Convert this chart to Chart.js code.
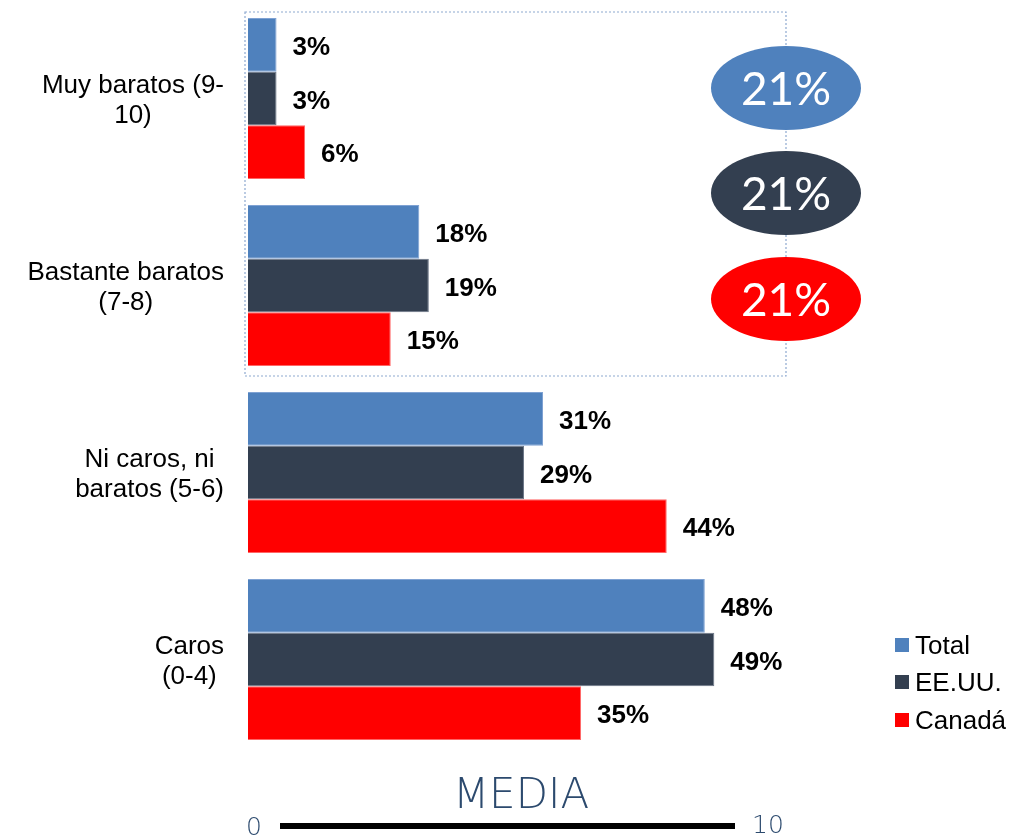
<!DOCTYPE html>
<html>
<head>
<meta charset="utf-8">
<script src="https://cdn.jsdelivr.net/npm/chart.js@4"></script>
<style>
  html, body { margin: 0; padding: 0; background: #ffffff; }
  #wrap { width: 1012px; height: 838px; position: relative; }
</style>
</head>
<body>
<div id="wrap"><canvas id="c" width="1012" height="838"></canvas></div>
<script>
// Rating bands (price perception), top to bottom
const categories = [
  ['Muy baratos (9-', '10)'],
  ['Bastante baratos', '(7-8)'],
  ['Ni caros, ni', 'baratos (5-6)'],
  ['Caros', '(0-4)']
];
const seriesNames = ['Total', 'EE.UU.', 'Canadá'];
const totalValues = [3, 18, 31, 48];
const usaValues = [3, 19, 29, 49];
const canadaValues = [6, 15, 44, 35];
// Share rating 7-10 per series
const topTwoShare = ['21%', '21%', '21%'];
const scaleEnds = ['0', '10'];
const scaleTitle = 'MEDIA';

const fills = ['#4F81BD', '#333F50', '#FF0000'];
const edges = ['#7FA2D3', '#6B7686', '#FF6666'];
const labelFont = '"Liberation Sans", Arial, sans-serif';

// Category labels: each block centered on itself, right edge next to the bars
const categoryLabels = {
  id: 'categoryLabels',
  afterDraw(chart) {
    const ctx = chart.ctx;
    const y = chart.scales.y;
    const right = 224, lh = 30;
    ctx.save();
    ctx.font = '26px ' + labelFont;
    ctx.fillStyle = '#000';
    ctx.textBaseline = 'middle';
    ctx.textAlign = 'center';
    categories.forEach((lines, i) => {
      const w = Math.max(...lines.map(l => ctx.measureText(l).width));
      const cx = right - w / 2;
      const cy = y.getPixelForValue(i) + 2;
      const y0 = cy - (lines.length - 1) * lh / 2;
      lines.forEach((l, k) => ctx.fillText(l, cx, y0 + k * lh));
    });
    ctx.restore();
  }
};

// Value labels after the end of each bar
const valueLabels = {
  id: 'valueLabels',
  afterDatasetsDraw(chart) {
    const ctx = chart.ctx;
    ctx.save();
    ctx.font = 'bold 26px ' + labelFont;
    ctx.fillStyle = '#000';
    ctx.textAlign = 'left';
    ctx.textBaseline = 'middle';
    chart.data.datasets.forEach((ds, di) => {
      chart.getDatasetMeta(di).data.forEach((el, i) => {
        ctx.fillText(ds.data[i] + '%', el.x + 16, el.y + 3);
      });
    });
    ctx.restore();
  }
};

// Dotted frame around the two "baratos" bands, with the top-two share bubbles
const topTwoBox = {
  id: 'topTwoBox',
  beforeDatasetsDraw(chart) {
    const ctx = chart.ctx;
    const ys = chart.scales.y;
    const half = (ys.getPixelForValue(1) - ys.getPixelForValue(0)) / 2;
    const top = ys.getPixelForValue(0) - half + 7;
    const bottom = ys.getPixelForValue(1) + half - 3;
    const left = chart.chartArea.left - 3, right = 786;
    ctx.save();
    ctx.strokeStyle = '#8EA9D0';
    ctx.lineWidth = 1.2;
    ctx.setLineDash([2, 2]);
    ctx.strokeRect(left, top, right - left, bottom - top);
    ctx.restore();
  },
  afterDraw(chart) {
    const ctx = chart.ctx;
    const cx = 786, rx = 75, ry = 42;
    const centers = [88, 193, 299];
    ctx.save();
    centers.forEach((cy, i) => {
      ctx.beginPath();
      ctx.ellipse(cx, cy, rx, ry, 0, 0, Math.PI * 2);
      ctx.fillStyle = fills[i];
      ctx.fill();
      ctx.fillStyle = '#fff';
      ctx.font = '46px Lato, "Open Sans", sans-serif';
      ctx.textAlign = 'center';
      ctx.textBaseline = 'middle';
      ctx.fillText(topTwoShare[i], cx, cy + 2);
    });
    ctx.restore();
  }
};

// Legend stacked at the lower right
const sideLegend = {
  id: 'sideLegend',
  afterDraw(chart) {
    const ctx = chart.ctx;
    const x = 895, ys = [645, 682, 720];
    ctx.save();
    ctx.font = '26px ' + labelFont;
    ctx.textBaseline = 'middle';
    ctx.textAlign = 'left';
    chart.data.datasets.forEach((ds, i) => {
      ctx.fillStyle = ds.backgroundColor;
      ctx.fillRect(x, ys[i] - 7, 14, 14);
      ctx.fillStyle = '#000';
      ctx.fillText(ds.label, x + 20, ys[i] + 2);
    });
    ctx.restore();
  }
};

// Mean scale strip along the bottom
const meanStrip = {
  id: 'meanStrip',
  afterDraw(chart) {
    const ctx = chart.ctx;
    ctx.save();
    ctx.fillStyle = '#2C4A6E';
    ctx.font = '200 42px "DejaVu Sans", sans-serif';
    ctx.textAlign = 'center';
    ctx.textBaseline = 'middle';
    ctx.fillText(scaleTitle, 521, 797);
    ctx.fillStyle = '#000';
    ctx.fillRect(280, 823, 455, 6);
    ctx.fillStyle = '#2C4A6E';
    ctx.font = '200 25px "DejaVu Sans", sans-serif';
    ctx.textAlign = 'left';
    ctx.fillText(scaleEnds[0], 246, 828);
    ctx.fillText(scaleEnds[1], 752, 826);
    ctx.restore();
  }
};

const values = [totalValues, usaValues, canadaValues];

new Chart(document.getElementById('c'), {
  type: 'bar',
  data: {
    labels: categories.map(l => l.join(' ')),
    datasets: seriesNames.map((name, i) => ({
      label: name,
      data: values[i],
      backgroundColor: fills[i],
      borderColor: edges[i],
      borderWidth: 1,
      categoryPercentage: 0.861,
      barPercentage: 1.0
    }))
  },
  options: {
    indexAxis: 'y',
    responsive: false,
    devicePixelRatio: 1,
    animation: false,
    layout: { padding: { left: 248, right: 193, top: 5, bottom: 85 } },
    scales: {
      x: { display: false, min: 0, max: 60 },
      y: { display: false }
    },
    plugins: {
      legend: { display: false },
      tooltip: { enabled: false }
    }
  },
  plugins: [topTwoBox, valueLabels, categoryLabels, sideLegend, meanStrip]
});
</script>
</body>
</html>
